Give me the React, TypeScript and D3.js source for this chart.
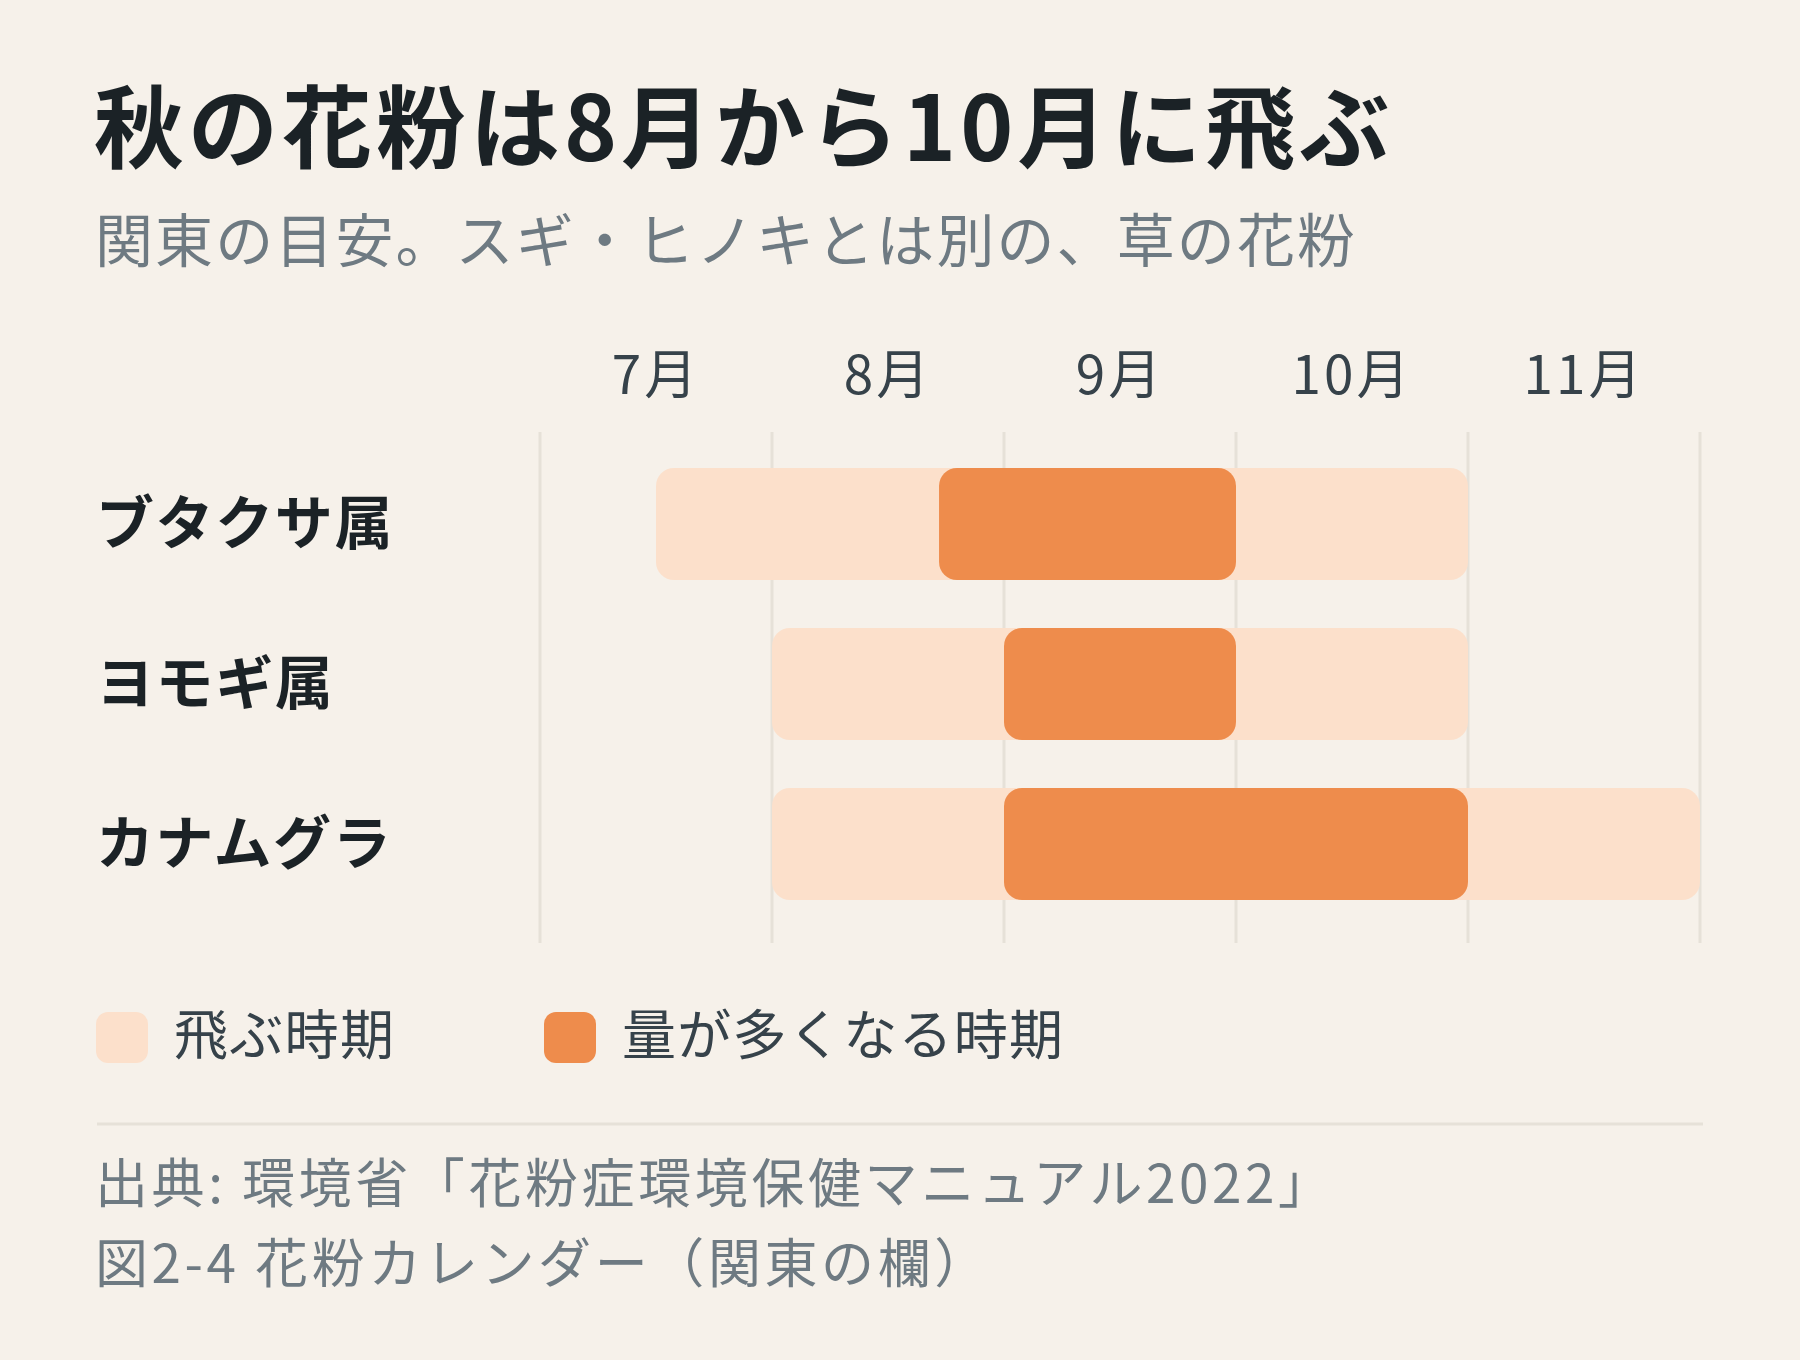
import React from 'react';
import * as d3 from 'd3';

const categories = ['ブタクサ属', 'ヨモギ属', 'カナムグラ'];
const seasonStart = [7.5, 8, 8];
const seasonEnd = [11, 11, 12];
const peakStart = [8.72, 9, 9];
const peakEnd = [10, 10, 11];
const monthTicks = [7, 8, 9, 10, 11];
const monthLabels = ['7月', '8月', '9月', '10月', '11月'];
const gridMonths = [7, 8, 9, 10, 11, 12];
const legendLabels = ['飛ぶ時期', '量が多くなる時期'];
const titleText = '秋の花粉は8月から10月に飛ぶ';
const subtitleText = '関東の目安。スギ・ヒノキとは別の、草の花粉';
const sourceLines = ['出典: 環境省「花粉症環境保健マニュアル2022」', '図2-4 花粉カレンダー（関東の欄）'];

const W = 1800;
const H = 1360;
const BG = '#f6f1ea';
const LIGHT = '#fce0cb';
const DARK = '#ee8c4c';
const GRID = '#e6e1d8';
const FONT = '"Noto Sans CJK JP", "Noto Sans", sans-serif';

export default function App() {
  const x = d3.scaleLinear().domain([7, 12]).range([540, 1700]);
  const y = d3
    .scaleBand<string>()
    .domain(categories)
    .range([428, 940])
    .paddingInner(0.3)
    .paddingOuter(0.25);
  const bw = y.bandwidth();
  const r = 18;

  return (
    <svg
      width={W}
      height={H}
      viewBox={`0 0 ${W} ${H}`}
      style={{ position: 'absolute', left: 0, top: 0, display: 'block' }}
      fontFamily={FONT}
    >
      <rect x={0} y={0} width={W} height={H} fill={BG} />
      <text x={94} y={161} fontSize={90} fontWeight={700} fill="#1b2226" letterSpacing={4}>
        {titleText}
      </text>
      <text x={95} y={262} fontSize={58} fill="#6e7a82" letterSpacing={2.1}>
        {subtitleText}
      </text>

      {monthTicks.map((m, i) => (
        <text
          key={m}
          x={x(m + 0.5)}
          y={394}
          fontSize={53}
          textAnchor="middle"
          fill="#36424a"
          letterSpacing={3}
        >
          {monthLabels[i]}
        </text>
      ))}

      {gridMonths.map((m) => (
        <line key={m} x1={x(m)} x2={x(m)} y1={432} y2={943} stroke={GRID} strokeWidth={3} />
      ))}

      {categories.map((c, i) => {
        const y0 = y(c) as number;
        return (
          <g key={c}>
            <text
              x={96}
              y={y0 + bw / 2 + 20}
              fontSize={58}
              fontWeight={700}
              fill="#1b2226"
              letterSpacing={1.6}
            >
              {c}
            </text>
            <rect
              x={x(seasonStart[i])}
              y={y0}
              width={x(seasonEnd[i]) - x(seasonStart[i])}
              height={bw}
              rx={r}
              ry={r}
              fill={LIGHT}
            />
            <rect
              x={x(peakStart[i])}
              y={y0}
              width={x(peakEnd[i]) - x(peakStart[i])}
              height={bw}
              rx={r}
              ry={r}
              fill={DARK}
            />
          </g>
        );
      })}

      {legendLabels.map((l, i) => {
        const lx = i === 0 ? 96 : 544;
        return (
          <g key={l}>
            <rect x={lx} y={1012} width={52} height={51} rx={12} ry={12} fill={i === 0 ? LIGHT : DARK} />
            <text x={lx + 78} y={1055} fontSize={54} fill="#36424a" letterSpacing={1.3}>
              {l}
            </text>
          </g>
        );
      })}

      <line x1={97} x2={1703} y1={1124} y2={1124} stroke={GRID} strokeWidth={3} />

      {sourceLines.map((s, i) => (
        <text key={i} x={95} y={1203 + i * 80} fontSize={53} fill="#6e7a82" letterSpacing={3.6}>
          {s}
        </text>
      ))}
    </svg>
  );
}
